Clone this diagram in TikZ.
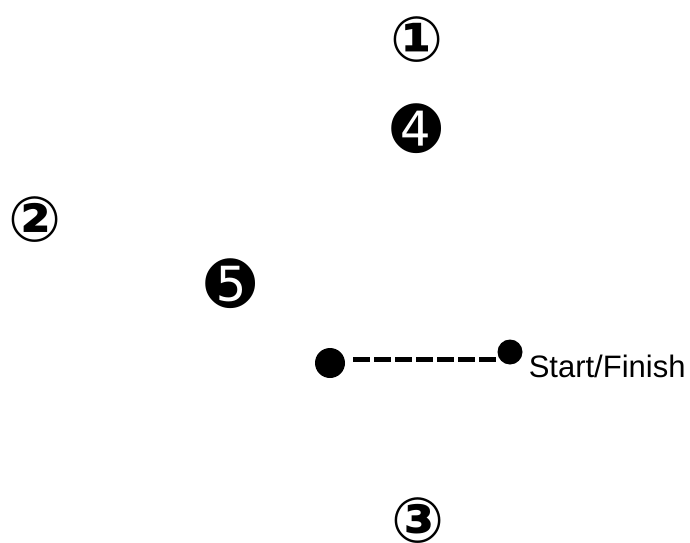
\documentclass[tikz,border=0pt]{standalone}
\usepackage{fontspec}
\setmainfont{Liberation Sans}
\newfontfamily\symfont{DejaVu Sans}
\newfontfamily\symboldfont{DejaVu Sans Bold}
\tikzset{
  ring/.style={inner sep=0pt, font=\symboldfont\fontsize{47pt}{47pt}\selectfont},
  disc/.style={inner sep=0pt, font=\symfont\fontsize{45pt}{45pt}\selectfont},
  dot/.style={circle, fill=black, inner sep=0pt},
}
\begin{document}
\begin{tikzpicture}[x=0.75pt,y=-0.75pt]
\useasboundingbox (0,0) rectangle (690,543);
\node[ring] (one) at (417,39.5) {①};
\node[disc] (four) at (416.5,129) {➍};
\node[ring] (two) at (35,219.5) {②};
\node[disc] (five) at (230.5,283.5) {➎};
\node[ring] (three) at (418,521) {③};
\node[dot, minimum size=22.5pt] (start) at (330,363) {};
\node[dot, minimum size=18.75pt] (finish) at (510,352) {};
\coordinate (dashL) at (353,359.5);
\coordinate (dashR) at (497,359.5);
\draw[line width=4.1pt, dash pattern=on 12.75pt off 3pt] (dashL) -- (dashR);
\node[anchor=base west, inner sep=0pt, font=\fontsize{23.25pt}{23.25pt}\selectfont] (label) at (528.5,377) {Start/Finish};
\end{tikzpicture}
\end{document}
